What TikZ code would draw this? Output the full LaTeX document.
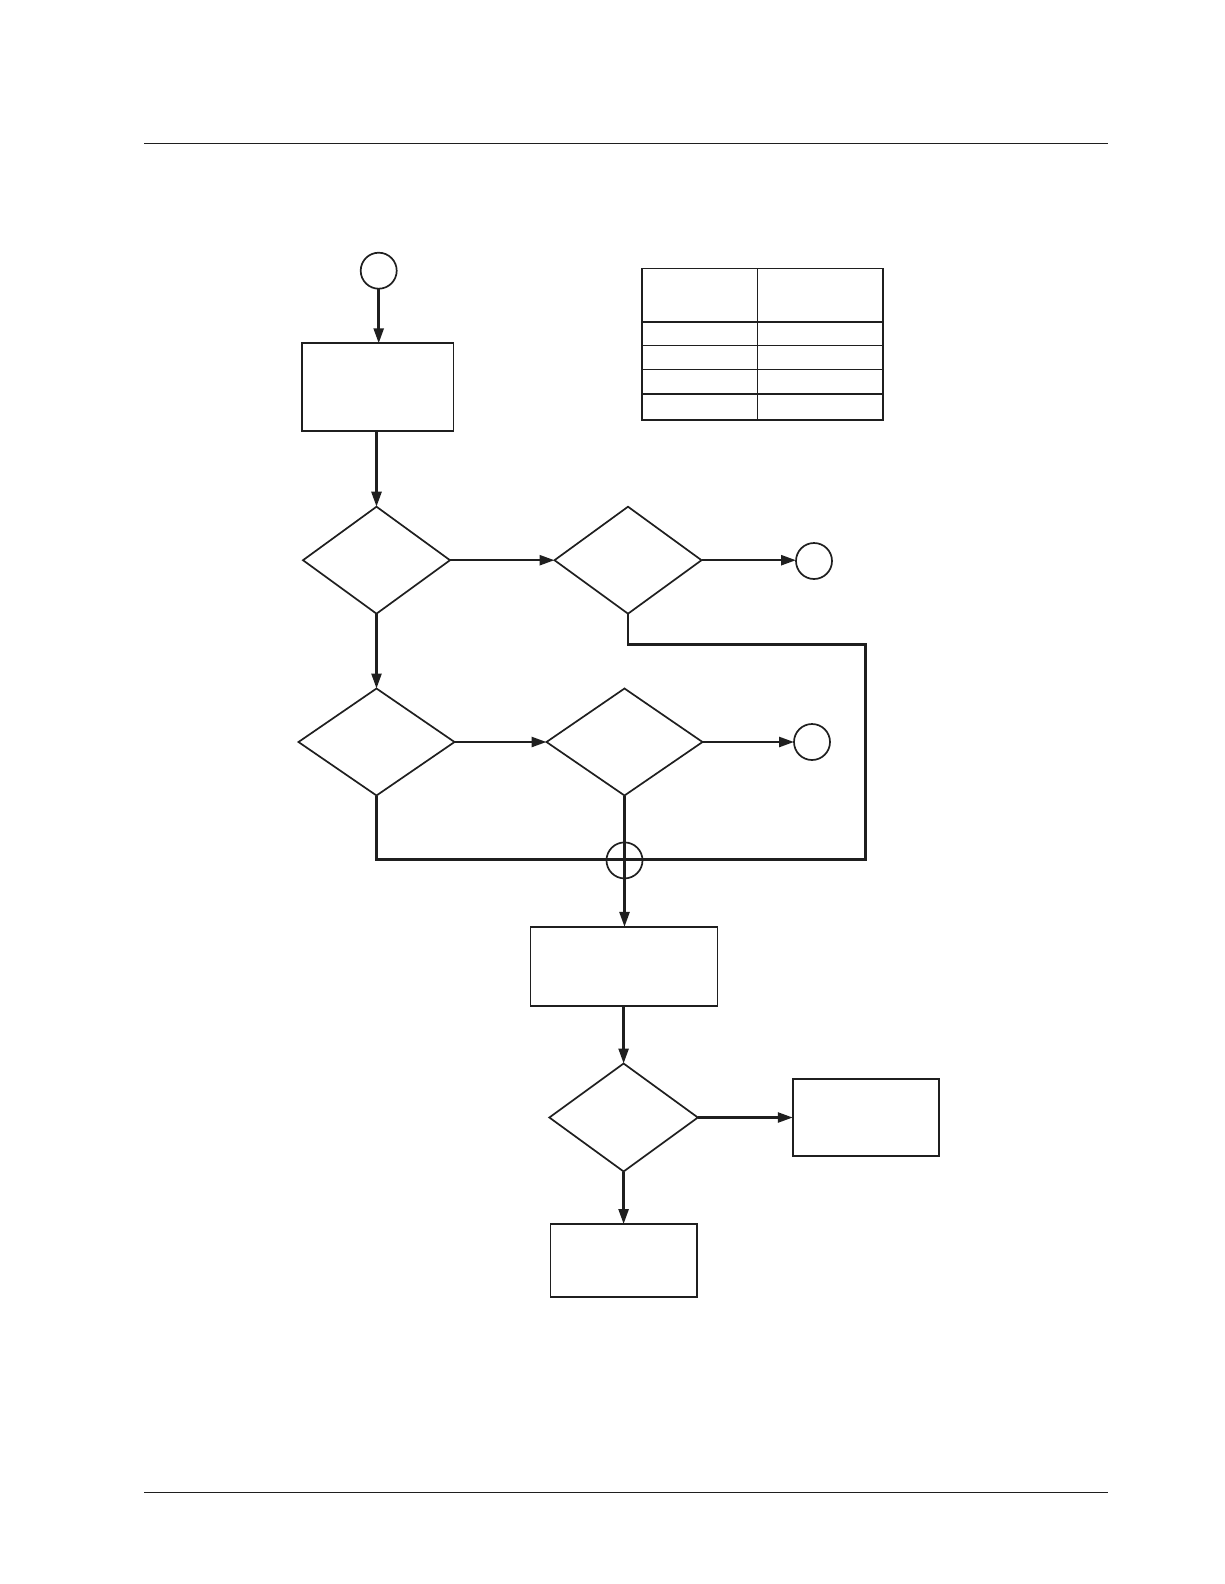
\documentclass[tikz,border=0pt]{standalone}
\usetikzlibrary{shapes.geometric,arrows.meta}
\begin{document}
\begin{tikzpicture}[x=1pt,y=-1pt,
  shapeline/.style={draw=black!88,line width=1.7pt},
  procbox/.style={shapeline,rectangle,inner sep=0pt,outer sep=0pt},
  decision/.style={shapeline,diamond,inner sep=0pt,outer sep=0pt,minimum width=147pt,minimum height=107pt},
  conn/.style={draw=black!88,circle,line width=1.7pt,inner sep=0pt,outer sep=0pt,minimum size=36pt},
  flow/.style={draw=black!88,line width=2.5pt},
  arr/.style={flow,-{Triangle[length=15pt,width=10pt]}},
  rule/.style={draw=black!88,line width=1.8pt}]
\useasboundingbox (0,0) rectangle (1224,1584);
% page rules
\coordinate (tl) at (144,143.5);
\coordinate (tr) at (1108,143.5);
\coordinate (bl) at (144,1492.5);
\coordinate (br) at (1108,1492.5);
\draw[rule] (tl) -- (tr);
\draw[rule] (bl) -- (br);
% nodes
\node[conn] (start) at (378.7,270.7) {};
\node[procbox,minimum width=151.5pt,minimum height=88pt] (box1) at (377.7,387.3) {};
\node[decision] (d1) at (376.5,560.2) {};
\node[decision] (d2) at (628,560.2) {};
\node[conn] (c2) at (814,561) {};
\node[decision,minimum width=156pt] (d3) at (376.5,742) {};
\node[decision,minimum width=156pt] (d4) at (624.5,742) {};
\node[conn] (c3) at (812,742) {};
\node[conn] (j) at (624.5,860.4) {};
\node[procbox,minimum width=187pt,minimum height=79pt] (box2) at (624,966.4) {};
\node[decision,minimum width=148.5pt,minimum height=108pt] (d5) at (623.6,1117.5) {};
\node[procbox,minimum width=146.5pt,minimum height=76.5pt] (box3) at (866,1117.5) {};
\node[procbox,minimum width=146.5pt,minimum height=72.7pt] (box4) at (623.6,1260.4) {};
% table
\draw[shapeline] (642.3,268.6) rectangle (882.7,420.1);
\draw[shapeline] (757.4,268.6) -- (757.4,420.1);
\foreach \yy in {322.2,345.4,369.6,393.9}{\draw[shapeline] (642.3,\yy) -- (882.7,\yy);}
% connectors
\draw[arr] (start) -- (start |- box1.north);
\draw[arr] (box1.south -| d1.north) -- (d1.north);
\draw[arr] (d1.east) -- (d2.west);
\draw[arr] (d2.east) -- (c2.west |- d2.east);
\draw[arr] (d1.south) -- (d3.north);
\draw[arr] (d3.east) -- (d4.west);
\draw[arr] (d4.east) -- (c3.west);
\coordinate (r1) at (865.5,644.3);
\coordinate (r2) at (865.5,859.4);
\draw[flow] (d2.south) |- (r1) -- (r2) -- (d3.south |- r2) -- (d3.south);
\draw[arr] (d4.south) -- (d4.south |- box2.north);
\draw[arr] (box2.south -| d5.north) -- (d5.north);
\draw[arr] (d5.east) -- (box3.west);
\draw[arr] (d5.south) -- (box4.north);
\end{tikzpicture}
\end{document}
